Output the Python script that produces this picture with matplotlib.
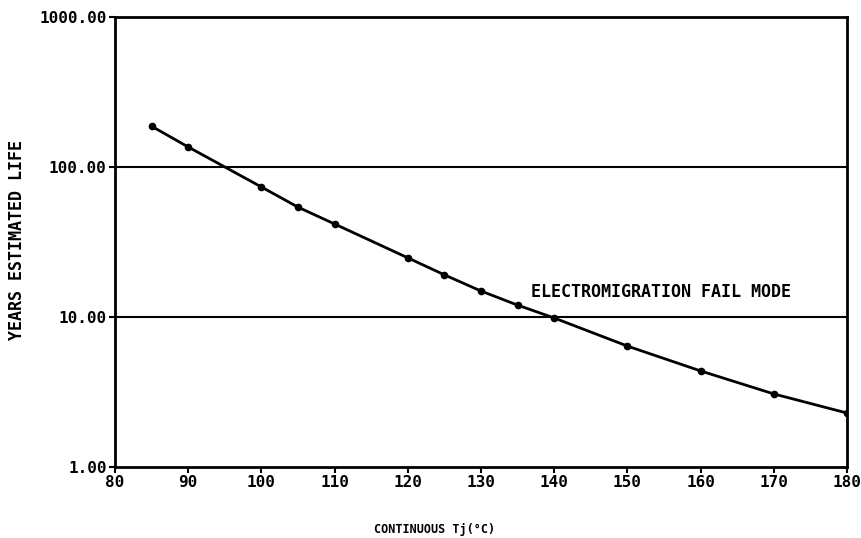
import matplotlib
matplotlib.use("Agg")
import matplotlib.pyplot as plt

temps = [85, 90, 100, 105, 110, 120, 125, 130, 135, 140, 150, 160, 170, 180]
years = [187, 136, 73.6, 54, 41.7, 24.8, 19.1, 14.9, 12.0, 9.85, 6.4, 4.37, 3.07, 2.29]
xticks = [80, 90, 100, 110, 120, 130, 140, 150, 160, 170, 180]
yticks = [1, 10, 100, 1000]
ytick_labels = ["1.00", "10.00", "100.00", "1000.00"]

plt.rcParams['font.family'] = ['DejaVu Sans Mono']
plt.rcParams['font.weight'] = 'bold'

fig = plt.figure(figsize=(8.61, 5.38), dpi=100)
ax = fig.add_axes([115/861, 71/538, 732/861, 450/538])
ax.plot(temps, years, color='black', lw=2.0, marker='o', ms=4.5)
ax.set_yscale('log')
ax.set_xlim(80, 180)
ax.set_ylim(1, 1000)
ax.set_xticks(xticks)
ax.set_xticklabels([str(t) for t in xticks], fontsize=11.5, fontweight='bold')
ax.set_yticks(yticks)
ax.set_yticklabels(ytick_labels, fontsize=11.5, fontweight='bold')
ax.minorticks_off()
ax.tick_params(axis='both', length=4, width=1.5, direction='out', pad=2, colors='black')
for s in ax.spines.values():
    s.set_linewidth(2)
for v in [10, 100]:
    ax.axhline(v, color='black', lw=1.5)
ax.text(136.8, 14.7, "ELECTROMIGRATION FAIL MODE", fontsize=12, fontweight='bold', va='center', ha='left')
fig.text(435/861, 1 - 530/538, "CONTINUOUS Tj(°C)", fontsize=8.5, fontweight='bold', ha='center', va='center')
fig.text(17/861, 1 - 240/538, "YEARS ESTIMATED LIFE", fontsize=12, fontweight='bold', ha='center', va='center', rotation=90)
fig.savefig("out.png", dpi=100)
